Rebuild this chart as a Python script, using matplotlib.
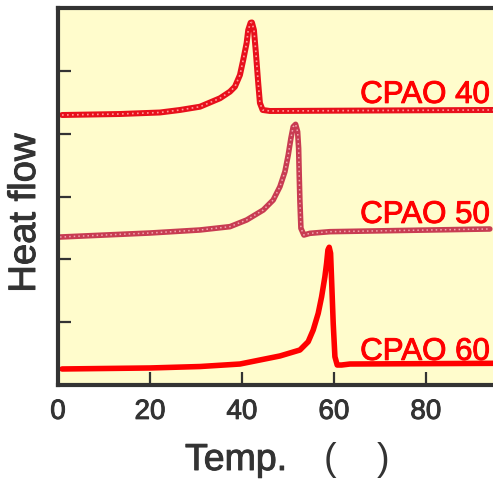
import matplotlib
matplotlib.use("Agg")
import matplotlib.pyplot as plt
import matplotlib.patheffects as pe

# ---- data ----
x40 = [0.87, 13.48, 22.17, 26.52, 30.87, 35.22, 37.39, 38.48, 39.57, 40.28, 41.02, 41.37,
       41.89, 42.17, 42.61, 43.04, 43.54, 43.91, 44.50, 46.09, 94.57]
y40 = [4.297, 4.313, 4.337, 4.377, 4.429, 4.563, 4.668, 4.748, 4.934, 5.173, 5.443, 5.650,
       5.766, 5.770, 5.650, 5.284, 4.807, 4.488, 4.377, 4.361, 4.377]

x50 = [0.43, 20.0, 30.87, 37.39, 41.02, 44.63, 46.80, 48.26, 49.35, 50.07, 50.65, 51.15,
       51.67, 52.11, 52.33, 52.46, 52.61, 52.83, 53.48, 54.78, 59.13, 93.91]
y50 = [2.355, 2.419, 2.467, 2.520, 2.626, 2.785, 2.944, 3.156, 3.395, 3.661, 3.926, 4.111,
       4.149, 4.032, 3.767, 3.342, 2.918, 2.494, 2.387, 2.414, 2.440, 2.483]

x60 = [0.87, 20.0, 30.87, 39.57, 43.91, 48.26, 52.61, 54.41, 55.50, 56.59, 57.33, 58.04,
       58.41, 58.70, 58.98, 59.28, 59.50, 59.85, 60.22, 60.72, 61.67, 63.48, 94.63]
y60 = [0.255, 0.271, 0.294, 0.334, 0.398, 0.462, 0.557, 0.689, 0.875, 1.141, 1.405, 1.723,
       1.937, 2.149, 2.192, 2.096, 1.671, 0.982, 0.450, 0.318, 0.318, 0.334, 0.345]

labels = ["CPAO 40", "CPAO 50", "CPAO 60"]
label_y = [4.49, 2.58, 0.40]
xticks = [0, 20, 40, 60, 80]
yticks = [1, 2, 3, 4, 5]

plt.rcParams['font.family'] = ['Liberation Sans', 'DejaVu Sans']

fig = plt.figure(figsize=(4.93, 4.79), dpi=100)
ax = fig.add_axes([58/493, 1-385/479, 1-58/493, (385-8)/479])
ax.set_facecolor('#fffccc')

dark = '#333333'
rnd = dict(solid_capstyle='round', solid_joinstyle='round')
# CPAO 40: red with light dots
ax.plot(x40, y40, color='#e8101c', lw=4.3, **rnd)
ax.plot(x40, y40, color='#ff9a9a', lw=1.2, linestyle=(0, (1, 2)))
# CPAO 50: pinkish red with light dots
ax.plot(x50, y50, color='#c83c52', lw=4.0, **rnd)
ax.plot(x50, y50, color='#f2a8b0', lw=1.1, linestyle=(0, (1, 2)))
# CPAO 60: solid red
ax.plot(x60, y60, color='#ff0000', lw=4.0, **rnd)

def bold(c):
    return [pe.withStroke(linewidth=0.7, foreground=c)]

for lab, ly in zip(labels, label_y):
    ax.text(93.9, ly, lab, color='#ff0000', fontsize=22.5, ha='right', va='baseline',
            path_effects=bold('#ff0000'))

ax.set_xlim(0, 94.6)
ax.set_ylim(0, 6)
ax.set_xticks(xticks)
ax.set_yticks(yticks)
ax.set_yticklabels([])
ax.tick_params(direction='in', length=9.5, width=1.6, color=dark,
               labelcolor=dark, labelsize=20, pad=10)
for t in ax.get_xticklabels():
    t.set_path_effects(bold(dark))
for s in ['left', 'top', 'bottom']:
    ax.spines[s].set_linewidth(3)
    ax.spines[s].set_color(dark)
ax.spines['right'].set_visible(False)

fig.text(25/493, 1-213/479, "Heat flow", rotation=90, ha='center', va='center',
         fontsize=27.5, color=dark, path_effects=bold(dark))
fig.text(185/493, 1-470/479, "Temp.", ha='left', va='baseline',
         fontsize=27, color=dark, path_effects=bold(dark))
fig.text(330/493, 1-470/479, "(", ha='center', va='baseline',
         fontsize=27, color=dark)
fig.text(383/493, 1-470/479, ")", ha='center', va='baseline',
         fontsize=27, color=dark)

fig.savefig("out.png", dpi=100)
